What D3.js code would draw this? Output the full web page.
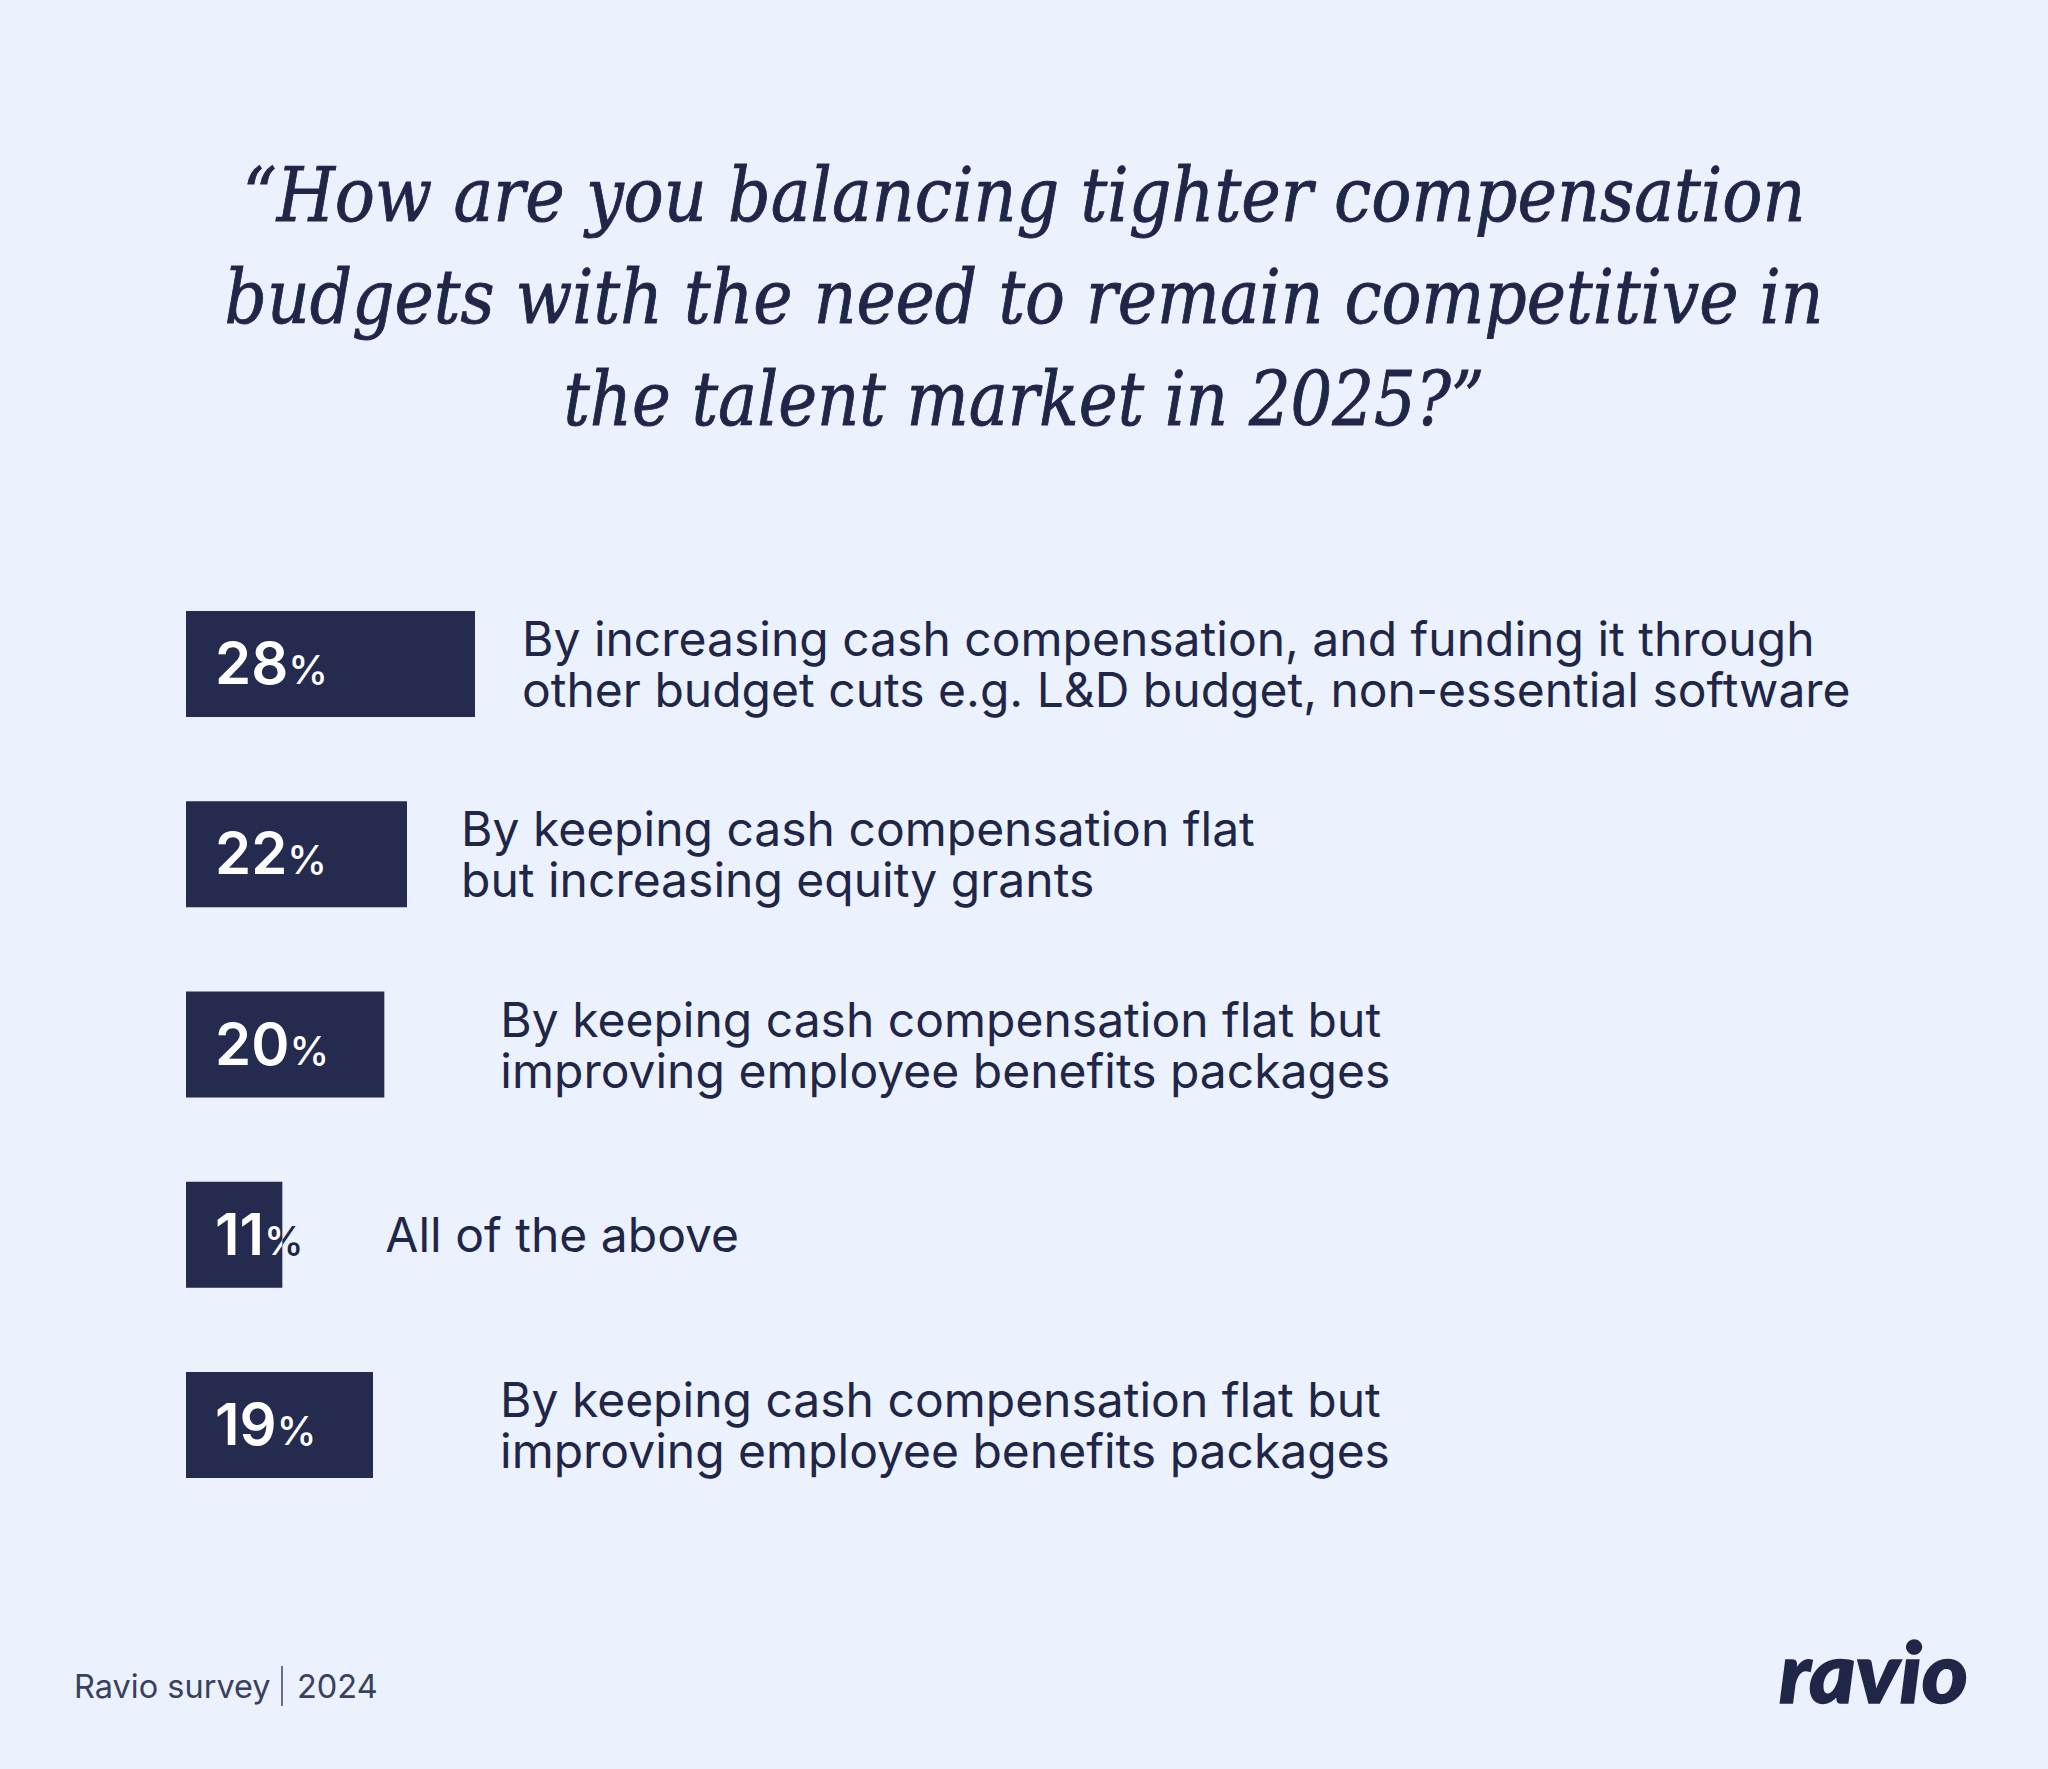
<!DOCTYPE html>
<html>
<head>
<meta charset="utf-8">
<script src="https://cdn.jsdelivr.net/npm/d3@7"></script>
<style>
  html, body { margin: 0; padding: 0; background: #ebf2fd; }
  svg { display: block; }
</style>
</head>
<body>
<script>
// ---- data ----
const titleLines = [
  "\u201CHow are you balancing tighter compensation",
  "budgets with the need to remain competitive in",
  "the talent market in 2025?\u201D"
];
const values = [28, 22, 20, 11, 19];
const categories = [
  ["By increasing cash compensation, and funding it through", "other budget cuts e.g. L&D budget, non-essential software"],
  ["By keeping cash compensation flat", "but increasing equity grants"],
  ["By keeping cash compensation flat but", "improving employee benefits packages"],
  ["All of the above"],
  ["By keeping cash compensation flat but", "improving employee benefits packages"]
];
const sourceText = "Ravio survey";
const yearText = "2024";
const logoText = "ravio";

// ---- layout ----
const W = 2048, H = 1769;
const navy = "#252b4f";
const textNavy = "#1f2647";
const bg = "#ebf2fd";

const svg = d3.select("body").append("svg")
  .attr("width", W).attr("height", H)
  .style("background", bg);

svg.append("rect").attr("width", W).attr("height", H).attr("fill", bg);

// title
const titleWidths = [1563, 1599, 921];
svg.append("g").selectAll("text")
  .data(titleLines)
  .join("text")
  .attr("x", W / 2)
  .attr("y", (d, i) => 221 + i * 102)
  .attr("text-anchor", "middle")
  .attr("font-family", "'DejaVu Serif', serif")
  .attr("font-style", "italic")
  .attr("font-size", 74)
  .attr("fill", textNavy)
  .attr("stroke", textNavy)
  .attr("stroke-width", 0.9)
  .attr("textLength", (d, i) => titleWidths[i])
  .attr("lengthAdjust", "spacingAndGlyphs")
  .text(d => d);

// scales
const x0 = 186;
const x = d3.scaleLinear().domain([2.5, 28]).range([x0, x0 + 289]);
const y = d3.scaleBand()
  .domain(d3.range(values.length))
  .range([611, 1478])
  .paddingInner(0.4428)
  .paddingOuter(0);

const textGap = [47, 54, 116, 103, 127];

const defs = svg.append("defs");
const rows = svg.append("g").selectAll("g")
  .data(values.map((v, i) => ({ v, i, lines: categories[i] })))
  .join("g");

rows.each(function (d) {
  const g = d3.select(this);
  const top = y(d.i), bh = y.bandwidth(), cy = top + bh / 2;
  const xe = x(d.v);
  g.append("rect")
    .attr("x", x0).attr("y", top)
    .attr("width", xe - x0).attr("height", bh)
    .attr("fill", navy);

  defs.append("clipPath").attr("id", "clip" + d.i)
    .append("rect").attr("x", x0).attr("y", top).attr("width", xe - x0).attr("height", bh);

  const mkLabel = (sel, fill) => {
    const t = sel.append("text")
      .attr("x", 215).attr("y", cy + 20)
      .attr("font-family", "Inter, sans-serif")
      .attr("fill", fill);
    t.append("tspan").attr("font-size", 58).attr("font-weight", 600).text(d.v);
    t.append("tspan").attr("font-size", 40).attr("font-weight", 500).text("%");
  };
  mkLabel(g, textNavy);
  mkLabel(g.append("g").attr("clip-path", `url(#clip${d.i})`), "#ffffff");

  const n = d.lines.length;
  const lh = 51;
  const baseMid = cy + 17.5;
  g.append("text")
    .attr("font-family", "Inter, sans-serif")
    .attr("font-size", 48)
    .attr("fill", textNavy)
    .selectAll("tspan")
    .data(d.lines)
    .join("tspan")
    .attr("x", xe + textGap[d.i])
    .attr("y", (l, j) => baseMid + (j - (n - 1) / 2) * lh)
    .text(l => l);
});

// footer
const foot = svg.append("g");
foot.append("text")
  .attr("x", 74).attr("y", 1698)
  .attr("font-family", "Inter, sans-serif")
  .attr("font-size", 32.5)
  .attr("fill", "#3a4060")
  .text(sourceText);
foot.append("line")
  .attr("x1", 282).attr("x2", 282).attr("y1", 1666).attr("y2", 1706)
  .attr("stroke", "#5a6078").attr("stroke-width", 1.8);
foot.append("text")
  .attr("x", 297).attr("y", 1698)
  .attr("font-family", "Inter, sans-serif")
  .attr("font-size", 32.5)
  .attr("fill", "#3a4060")
  .text(yearText);

svg.append("text")
  .attr("x", 1779).attr("y", 1703)
  .attr("font-family", "Lato, sans-serif")
  .attr("font-weight", 900)
  .attr("font-style", "italic")
  .attr("font-size", 84)
  .attr("textLength", 189)
  .attr("lengthAdjust", "spacingAndGlyphs")
  .attr("fill", textNavy)
  .attr("stroke", textNavy)
  .attr("stroke-width", 1.5)
  .text(logoText);
</script>
</body>
</html>
